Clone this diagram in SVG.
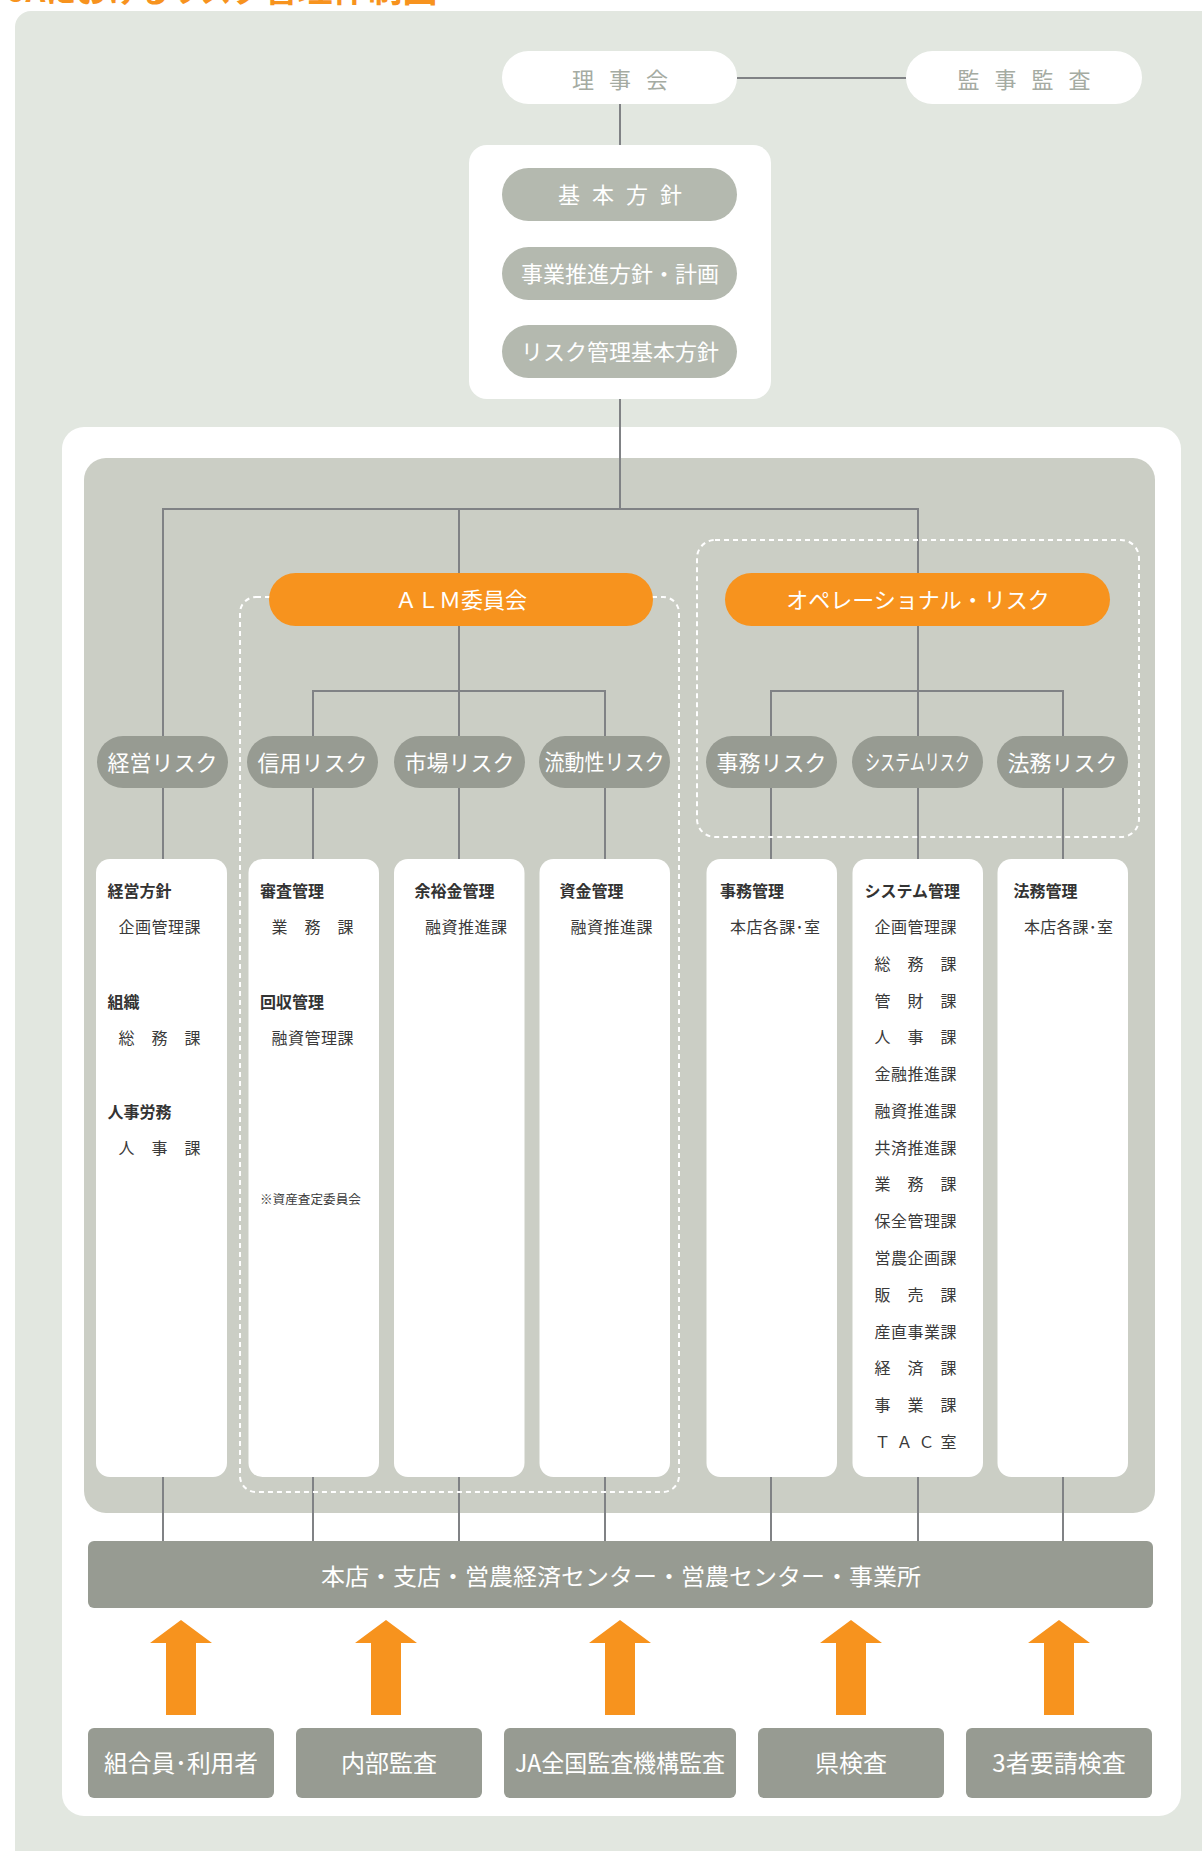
<svg xmlns="http://www.w3.org/2000/svg" xmlns:xlink="http://www.w3.org/1999/xlink" width="1202" height="1851" viewBox="0 0 1202 1851">
<style>
.t{font-family:"Noto Sans CJK JP","Noto Sans",sans-serif}
.conn{stroke:#808285;stroke-width:2;fill:none}
.dash{stroke:#FFFFFF;stroke-width:2;fill:none;stroke-dasharray:5 4}
.pillL{fill:#B4B9AF}
.pillD{fill:#979B92}
.pillO{fill:#F7931E}
.wt{fill:#FFFFFF}
.col{fill:#FFFFFF}
.hd{font-size:16px;font-weight:700;fill:#333333}
.it{font-size:16px;fill:#3A3A3A}
.pt{font-size:22px;fill:#FFFFFF;text-anchor:middle}
.bt{font-size:24px;fill:#FFFFFF;text-anchor:middle}
</style>
<defs>
<path id="arrow" d="M0,1620 L31,1643 L15,1643 L15,1715 L-15,1715 L-15,1643 L-31,1643 Z" fill="#F7931E"/>
</defs>
<rect x="0" y="0" width="1202" height="1851" fill="#FFFFFF"/>
<text class="t" x="8" y="2" fill="#F7931E" font-weight="700"><tspan font-size="31">JAにおけるリスク</tspan><tspan font-size="35">管理体制図</tspan></text>
<rect x="15" y="11" width="1250" height="1900" rx="16" fill="#E2E7E0"/>
<rect x="62" y="427" width="1119" height="1389" rx="22" fill="#FFFFFF"/>
<rect x="84" y="458" width="1071" height="1055" rx="22" fill="#CBCEC5"/>

<g id="connectors">
<line class="conn" x1="737" y1="78" x2="906" y2="78"/>
<line class="conn" x1="620" y1="104" x2="620" y2="145"/>
<line class="conn" x1="620" y1="399" x2="620" y2="509"/>
<polyline class="conn" points="163,736 163,509 918,509 918,573"/>
<line class="conn" x1="459" y1="509" x2="459" y2="573"/>
<line class="conn" x1="459" y1="626" x2="459" y2="736"/>
<polyline class="conn" points="313,736 313,691 605,691 605,736"/>
<line class="conn" x1="918" y1="626" x2="918" y2="736"/>
<polyline class="conn" points="771,736 771,691 1063,691 1063,736"/>
<g>
<line class="conn" x1="163" y1="788" x2="163" y2="859"/>
<line class="conn" x1="313" y1="788" x2="313" y2="859"/>
<line class="conn" x1="459" y1="788" x2="459" y2="859"/>
<line class="conn" x1="605" y1="788" x2="605" y2="859"/>
<line class="conn" x1="771" y1="788" x2="771" y2="859"/>
<line class="conn" x1="918" y1="788" x2="918" y2="859"/>
<line class="conn" x1="1063" y1="788" x2="1063" y2="859"/>
</g>
<g>
<line class="conn" x1="163" y1="1477" x2="163" y2="1541"/>
<line class="conn" x1="313" y1="1477" x2="313" y2="1541"/>
<line class="conn" x1="459" y1="1477" x2="459" y2="1541"/>
<line class="conn" x1="605" y1="1477" x2="605" y2="1541"/>
<line class="conn" x1="771" y1="1477" x2="771" y2="1541"/>
<line class="conn" x1="918" y1="1477" x2="918" y2="1541"/>
<line class="conn" x1="1063" y1="1477" x2="1063" y2="1541"/>
</g>
<use xlink:href="#arrow" x="181"/>
<use xlink:href="#arrow" x="386"/>
<use xlink:href="#arrow" x="620"/>
<use xlink:href="#arrow" x="851"/>
<use xlink:href="#arrow" x="1059"/>
</g>

<g id="region-alm"><rect class="dash" x="240" y="597" width="439" height="895" rx="16"/></g>
<g id="region-op"><rect class="dash" x="697" y="540" width="442" height="297" rx="18"/></g>

<g id="rijikai"><rect class="wt" x="502" y="51" width="235" height="53" rx="26.5"/><text class="t" x="620" y="88" font-size="22" fill="#A5ABA2" text-anchor="middle" textLength="96" lengthAdjust="spacing">理事会</text></g>
<g id="kanji"><rect class="wt" x="906" y="51" width="236" height="53" rx="26.5"/><text class="t" x="1024" y="88" font-size="22" fill="#A5ABA2" text-anchor="middle" textLength="133" lengthAdjust="spacing">監事監査</text></g>

<g id="policy">
<rect class="wt" x="469" y="145" width="302" height="254" rx="18"/>
<rect class="pillL" x="502" y="168" width="235" height="53" rx="26.5"/>
<text class="t pt" x="620" y="202.5" textLength="124" lengthAdjust="spacing">基本方針</text>
<rect class="pillL" x="502" y="247" width="235" height="53" rx="26.5"/>
<text class="t pt" x="620" y="281.5">事業推進方針・計画</text>
<rect class="pillL" x="502" y="325" width="235" height="53" rx="26.5"/>
<text class="t pt" x="620" y="359.5" font-size="21">リスク管理基本方針</text>
</g>

<g id="alm"><rect class="pillO" x="269" y="573" width="384" height="53" rx="26.5"/><text class="t pt" x="461" y="608">ＡＬＭ委員会</text></g>
<g id="oprisk"><rect class="pillO" x="725" y="573" width="385" height="53" rx="26.5"/><text class="t pt" x="918" y="608">オペレーショナル・リスク</text></g>

<g id="risk-keiei"><rect class="pillD" x="97" y="736" width="131" height="52" rx="26"/><text class="t pt" x="162.5" y="770.5">経営リスク</text></g>
<g id="risk-shinyo"><rect class="pillD" x="247" y="736" width="131" height="52" rx="26"/><text class="t pt" x="312.5" y="770.5">信用リスク</text></g>
<g id="risk-shijo"><rect class="pillD" x="394" y="736" width="131" height="52" rx="26"/><text class="t pt" x="459.5" y="770.5">市場リスク</text></g>
<g id="risk-ryudo"><rect class="pillD" x="539" y="736" width="131" height="52" rx="26"/><text class="t pt" x="604.5" y="770" font-size="20" textLength="120" lengthAdjust="spacingAndGlyphs">流動性リスク</text></g>
<g id="risk-jimu"><rect class="pillD" x="706" y="736" width="131" height="52" rx="26"/><text class="t pt" x="771.5" y="770.5">事務リスク</text></g>
<g id="risk-system"><rect class="pillD" x="852" y="736" width="131" height="52" rx="26"/><text class="t pt" x="917.5" y="769.5" font-size="20" textLength="105" lengthAdjust="spacingAndGlyphs">システムリスク</text></g>
<g id="risk-homu"><rect class="pillD" x="997" y="736" width="131" height="52" rx="26"/><text class="t pt" x="1062.5" y="770.5">法務リスク</text></g>

<g id="col-keiei"><rect class="col" x="96" y="859" width="131" height="618" rx="14"/>
<text class="t hd" x="107.5" y="897">経営方針</text>
<text class="t it" x="118.5" y="933" textLength="82" lengthAdjust="spacing">企画管理課</text>
<text class="t hd" x="107.5" y="1008">組織</text>
<text class="t it" x="118.5" y="1044" textLength="82" lengthAdjust="spacing">総務課</text>
<text class="t hd" x="107.5" y="1117.5">人事労務</text>
<text class="t it" x="118.5" y="1154" textLength="82" lengthAdjust="spacing">人事課</text>
</g>
<g id="col-shinyo"><rect class="col" x="248.5" y="859" width="130.5" height="618" rx="14"/>
<text class="t hd" x="260" y="897">審査管理</text>
<text class="t it" x="271.5" y="933" textLength="82" lengthAdjust="spacing">業務課</text>
<text class="t hd" x="260" y="1008">回収管理</text>
<text class="t it" x="271.5" y="1044" textLength="82" lengthAdjust="spacing">融資管理課</text>
<text class="t" x="260" y="1204" font-size="12.5" fill="#3A3A3A" textLength="101" lengthAdjust="spacingAndGlyphs">※資産査定委員会</text>
</g>
<g id="col-shijo"><rect class="col" x="394" y="859" width="130.5" height="618" rx="14"/>
<text class="t hd" x="414.5" y="897">余裕金管理</text>
<text class="t it" x="425" y="933" textLength="82" lengthAdjust="spacing">融資推進課</text>
</g>
<g id="col-ryudo"><rect class="col" x="539.5" y="859" width="130.5" height="618" rx="14"/>
<text class="t hd" x="559.5" y="897">資金管理</text>
<text class="t it" x="570.5" y="933" textLength="82" lengthAdjust="spacing">融資推進課</text>
</g>
<g id="col-jimu"><rect class="col" x="706.5" y="859" width="130.5" height="618" rx="14"/>
<text class="t hd" x="720" y="897">事務管理</text>
<text class="t it" x="730" y="933" textLength="90" lengthAdjust="spacing">本店各課･室</text>
</g>
<g id="col-system"><rect class="col" x="852.5" y="859" width="130.5" height="618" rx="14"/>
<text class="t hd" x="864.5" y="897">システム管理</text>
<text class="t it" x="874.5" y="933" textLength="82" lengthAdjust="spacing">企画管理課</text>
<text class="t it" x="874.5" y="969.8" textLength="82" lengthAdjust="spacing">総務課</text>
<text class="t it" x="874.5" y="1006.5" textLength="82" lengthAdjust="spacing">管財課</text>
<text class="t it" x="874.5" y="1043.3" textLength="82" lengthAdjust="spacing">人事課</text>
<text class="t it" x="874.5" y="1080.1" textLength="82" lengthAdjust="spacing">金融推進課</text>
<text class="t it" x="874.5" y="1116.9" textLength="82" lengthAdjust="spacing">融資推進課</text>
<text class="t it" x="874.5" y="1153.6" textLength="82" lengthAdjust="spacing">共済推進課</text>
<text class="t it" x="874.5" y="1190.4" textLength="82" lengthAdjust="spacing">業務課</text>
<text class="t it" x="874.5" y="1227.2" textLength="82" lengthAdjust="spacing">保全管理課</text>
<text class="t it" x="874.5" y="1263.9" textLength="82" lengthAdjust="spacing">営農企画課</text>
<text class="t it" x="874.5" y="1300.7" textLength="82" lengthAdjust="spacing">販売課</text>
<text class="t it" x="874.5" y="1337.5" textLength="82" lengthAdjust="spacing">産直事業課</text>
<text class="t it" x="874.5" y="1374.2" textLength="82" lengthAdjust="spacing">経済課</text>
<text class="t it" x="874.5" y="1411" textLength="82" lengthAdjust="spacing">事業課</text>
<text class="t it" x="874.5" y="1447.8" textLength="82" lengthAdjust="spacing">ＴＡＣ室</text>
</g>
<g id="col-homu"><rect class="col" x="997.5" y="859" width="130.5" height="618" rx="14"/>
<text class="t hd" x="1013.5" y="897">法務管理</text>
<text class="t it" x="1024" y="933" textLength="89" lengthAdjust="spacing">本店各課･室</text>
</g>

<g id="branches"><rect class="pillD" x="88" y="1541" width="1065" height="67" rx="6"/><text class="t" x="621" y="1585" font-size="23" fill="#FFFFFF" text-anchor="middle" textLength="600" lengthAdjust="spacingAndGlyphs">本店・支店・営農経済センター・営農センター・事業所</text></g>

<g id="b-members"><rect class="pillD" x="88" y="1728" width="186" height="70" rx="6"/><text class="t bt" x="181" y="1772" textLength="154" lengthAdjust="spacingAndGlyphs">組合員･利用者</text></g>
<g id="b-internal"><rect class="pillD" x="296" y="1728" width="186" height="70" rx="6"/><text class="t bt" x="389" y="1772">内部監査</text></g>
<g id="b-ja"><rect class="pillD" x="504" y="1728" width="232" height="70" rx="6"/><text class="t bt" x="620" y="1772" textLength="210" lengthAdjust="spacingAndGlyphs">JA全国監査機構監査</text></g>
<g id="b-pref"><rect class="pillD" x="758" y="1728" width="186" height="70" rx="6"/><text class="t bt" x="851" y="1772">県検査</text></g>
<g id="b-third"><rect class="pillD" x="966" y="1728" width="186" height="70" rx="6"/><text class="t bt" x="1059" y="1772">3者要請検査</text></g>
</svg>
